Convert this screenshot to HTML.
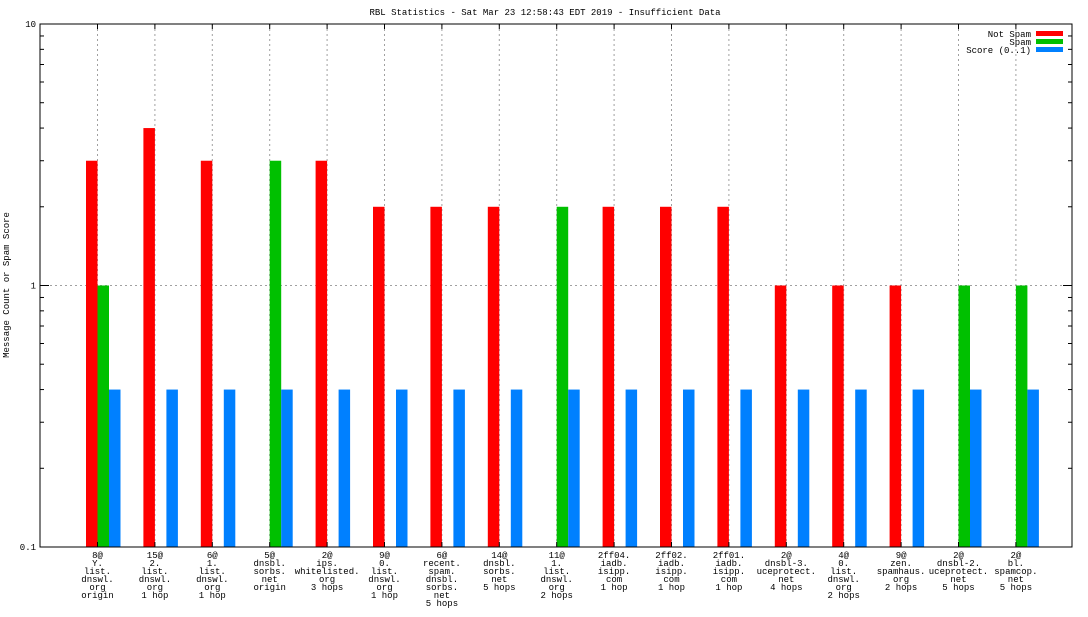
<!DOCTYPE html>
<html><head><meta charset="utf-8"><style>
body{margin:0;background:#fff}
svg text{font-family:"Liberation Mono","DejaVu Sans Mono",monospace;font-size:9px;fill:#000}
</style></head><body>
<svg id="c" width="1088" height="612" xmlns="http://www.w3.org/2000/svg">
<text x="545" y="15" text-anchor="middle">RBL Statistics - Sat Mar 23 12:58:43 EDT 2019 - Insufficient Data</text>
<text transform="translate(9,285) rotate(-90)" text-anchor="middle">Message Count or Spam Score</text>
<g id="grid"></g><g id="bars"></g><g id="axes"></g>
<g>
<text x="1031" y="37" text-anchor="end">Not Spam</text>
<rect x="1036" y="31" width="27" height="5" fill="#ff0000"/>
<text x="1031" y="45" text-anchor="end">Spam</text>
<rect x="1036" y="39" width="27" height="5" fill="#00c000"/>
<text x="1031" y="53" text-anchor="end">Score (0..1)</text>
<rect x="1036" y="47" width="27" height="5" fill="#0080ff"/>
</g>
</svg>
<script>
const categories=[
["8@","Y.","list.","dnswl.","org","origin"],
["15@","2.","list.","dnswl.","org","1 hop"],
["6@","1.","list.","dnswl.","org","1 hop"],
["5@","dnsbl.","sorbs.","net","origin"],
["2@","ips.","whitelisted.","org","3 hops"],
["9@","0.","list.","dnswl.","org","1 hop"],
["6@","recent.","spam.","dnsbl.","sorbs.","net","5 hops"],
["14@","dnsbl.","sorbs.","net","5 hops"],
["11@","1.","list.","dnswl.","org","2 hops"],
["2ff04.","iadb.","isipp.","com","1 hop"],
["2ff02.","iadb.","isipp.","com","1 hop"],
["2ff01.","iadb.","isipp.","com","1 hop"],
["2@","dnsbl-3.","uceprotect.","net","4 hops"],
["4@","0.","list.","dnswl.","org","2 hops"],
["9@","zen.","spamhaus.","org","2 hops"],
["2@","dnsbl-2.","uceprotect.","net","5 hops"],
["2@","bl.","spamcop.","net","5 hops"]];
const notSpam=[3,4,3,0,3,2,2,2,0,2,2,2,1,1,1,0,0];
const spam=[1,0,0,3,0,0,0,0,2,0,0,0,0,0,0,1,1];
const score=[0.4,0.4,0.4,0.4,0.4,0.4,0.4,0.4,0.4,0.4,0.4,0.4,0.4,0.4,0.4,0.4,0.4];
const yTicks=[0.1,1,10];
const yTickLabels=["0.1","1","10"];
const NS="http://www.w3.org/2000/svg";
const L=40,R=1072,T=24,B=547;
const y=v=>B-(Math.log10(v)+1)/2*(B-T);
const xc=i=>97.5+i*57.4;
function mk(t,a,p){const e=document.createElementNS(NS,t);for(const k in a)e.setAttribute(k,a[k]);p.appendChild(e);return e;}
const grid=document.getElementById('grid'),bars=document.getElementById('bars'),axes=document.getElementById('axes');
// horizontal grid at 1
let hg=mk('line',{x1:L,x2:R,y1:y(1),y2:y(1),stroke:'#a0a0a0','stroke-dasharray':'2,3'},grid);


categories.forEach((c,i)=>{
 const x=xc(i);
 const g=mk('line',{x1:x,x2:x,y1:T,y2:B,stroke:'#a0a0a0','stroke-dasharray':'2,3'},grid);
 
 
 mk('line',{x1:x,x2:x,y1:T,y2:T+5,stroke:'#000'},axes);
 mk('line',{x1:x,x2:x,y1:B,y2:B-5,stroke:'#000'},axes);
 const series=[[notSpam[i],'#ff0000',-11.5,'not-spam'],[spam[i],'#00c000',0,'spam'],[score[i],'#0080ff',11.5,'score']];
 series.forEach(s=>{
  if(s[0]>0.1){
   const r=mk('rect',{x:x+s[2],y:y(s[0]),width:11.5,height:B-y(s[0]),fill:s[1]},bars);
   
   
  }
 });
 const t=mk('text',{x:x,'text-anchor':'middle'},axes);
 
 
 c.forEach((ln,j)=>{const ts=mk('tspan',{x:x,y:B+11+j*8},t);ts.textContent=ln;});
});
// border
const bd=mk('rect',{x:L,y:T,width:R-L,height:B-T,fill:'none',stroke:'#000'},axes);


yTicks.forEach((v,k)=>{
 const t=mk('text',{x:L-4,y:y(v)+3,'text-anchor':'end'},axes);
 
 
 t.textContent=yTickLabels[k];
 mk('line',{x1:L,x2:L+9,y1:y(v),y2:y(v),stroke:'#000'},axes);
 mk('line',{x1:R,x2:R-9,y1:y(v),y2:y(v),stroke:'#000'},axes);
 if(k<yTicks.length-1){for(let m=2;m<10;m++){const yy=y(v*m);
  mk('line',{x1:L,x2:L+4,y1:yy,y2:yy,stroke:'#000'},axes);
  mk('line',{x1:R,x2:R-4,y1:yy,y2:yy,stroke:'#000'},axes);}}
});
</script>
</body></html>
